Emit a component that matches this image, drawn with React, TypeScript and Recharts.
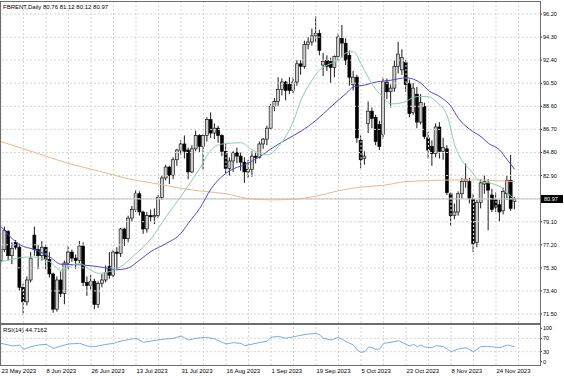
import React from 'react';
import { ComposedChart, Bar, Line, XAxis, YAxis, ReferenceLine } from 'recharts';

// ---------- data ----------
const symbol = 'FBRENT';
const period = 'Daily';

const dateLabels = ['23 May 2023', '8 Jun 2023', '26 Jun 2023', '13 Jul 2023', '31 Jul 2023', '16 Aug 2023', '1 Sep 2023', '19 Sep 2023', '5 Oct 2023', '23 Oct 2023', '8 Nov 2023', '24 Nov 2023'];
const dateBars = [0, 12, 24, 36, 48, 60, 72, 84, 96, 108, 120, 132];
const gridBars = [0, 6, 12, 18, 24, 30, 36, 42, 48, 54, 60, 66, 72, 78, 84, 90, 96, 102, 108, 114, 120, 126, 132, 138];

const priceTicks = [71.5, 73.4, 75.3, 77.2, 79.1, 82.9, 84.8, 86.7, 88.6, 90.5, 92.4, 94.3, 96.2];
const priceGrid = [71.5, 73.4, 75.3, 77.2, 79.1, 81.0, 82.9, 84.8, 86.7, 88.6, 90.5, 92.4, 94.3, 96.2];
const rsiTicks = [0, 30, 70, 100];
const rsiLevels = [30, 70];

const open = [
  75.9, 76.8, 78.3, 76.3, 77.4, 77.0, 73.7, 72.5, 74.3, 78.0,
  76.8, 76.3, 77.0, 76.0, 74.8, 71.9, 74.3, 73.2, 75.7, 76.6,
  76.1, 75.9, 77.1, 74.1, 73.85, 74.2, 72.3, 74.0, 74.3, 75.4,
  74.7, 76.6, 76.5, 78.5, 77.7, 79.4, 80.1, 81.4, 79.9, 78.5,
  79.6, 79.5, 79.6, 81.1, 82.7, 83.6, 82.9, 84.2, 85.0, 85.5,
  85.0, 83.2, 85.1, 86.2, 85.3, 86.2, 87.5, 86.4, 86.8, 86.2,
  84.9, 83.5, 84.1, 84.8, 84.5, 84.0, 83.2, 83.4, 84.5, 84.4,
  85.5, 85.9, 86.8, 88.6, 89.0, 90.0, 90.6, 90.4, 89.9, 90.6,
  92.1, 91.9, 93.7, 93.9, 94.4, 94.6, 92.0, 92.4, 92.3, 91.8,
  92.7, 94.2, 93.8, 92.8, 90.4, 91.0, 85.8, 84.3, 87.2, 88.2,
  87.7, 87.1, 86.3, 90.6, 89.8, 90.1, 91.9, 91.6, 92.2, 90.5,
  88.1, 89.6, 87.3, 88.6, 86.0, 85.3, 84.7, 86.9, 84.9, 85.1,
  81.4, 79.6, 79.9, 81.4, 82.4, 82.4, 81.0, 77.4, 80.7, 82.2,
  82.3, 81.3, 80.9, 80.5, 80.0, 81.4, 82.5, 80.76,
];
const high = [
  77.2, 78.7, 78.4, 77.4, 77.6, 77.3, 74.0, 74.6, 76.6, 78.7,
  77.2, 77.5, 77.2, 76.6, 74.9, 74.6, 75.0, 75.9, 77.1, 76.8,
  76.4, 77.5, 77.4, 74.6, 74.7, 74.4, 74.2, 74.8, 75.5, 76.6,
  76.8, 77.0, 78.6, 78.6, 79.6, 80.4, 81.7, 81.6, 80.0, 79.9,
  80.1, 80.2, 81.3, 82.9, 83.8, 83.7, 84.4, 85.1, 85.8, 86.2,
  85.2, 85.4, 86.6, 86.3, 86.3, 87.7, 88.1, 87.2, 87.0, 86.3,
  85.5, 84.4, 84.9, 85.2, 84.8, 84.4, 84.2, 84.9, 84.8, 85.7,
  86.0, 87.0, 88.8, 89.3, 91.0, 90.9, 90.7, 91.0, 91.0, 92.4,
  92.4, 94.0, 94.3, 95.0, 96.0, 94.9, 93.0, 92.8, 92.6, 92.8,
  94.6, 95.3, 94.2, 93.2, 91.5, 91.2, 86.2, 84.9, 89.0, 88.5,
  87.9, 87.4, 91.0, 90.9, 90.4, 92.4, 93.9, 93.3, 92.4, 90.8,
  90.5, 90.2, 89.6, 88.9, 86.5, 85.8, 87.2, 87.3, 86.0, 85.4,
  81.5, 80.6, 81.6, 82.7, 83.9, 82.7, 81.4, 80.9, 82.6, 82.9,
  82.6, 81.8, 81.5, 80.9, 81.9, 82.9, 84.6, 81.12,
];
const low = [
  75.5, 76.6, 75.9, 75.6, 76.8, 73.4, 71.4, 72.2, 74.1, 76.3,
  75.2, 75.9, 75.2, 74.5, 71.6, 71.7, 72.9, 72.3, 75.2, 75.8,
  75.2, 75.7, 73.8, 73.0, 73.5, 71.9, 72.0, 73.7, 74.1, 74.4,
  74.5, 75.1, 76.2, 77.1, 77.4, 79.1, 79.9, 79.6, 78.1, 78.2,
  79.1, 78.9, 79.4, 80.9, 82.5, 82.2, 82.6, 83.7, 84.6, 84.3,
  82.6, 83.1, 84.9, 84.8, 83.4, 85.7, 86.0, 85.9, 85.6, 84.5,
  83.1, 82.9, 83.2, 83.9, 83.3, 82.3, 82.7, 82.8, 83.9, 84.3,
  85.1, 85.4, 86.7, 88.2, 88.6, 89.5, 89.1, 89.6, 89.7, 90.3,
  91.2, 91.7, 93.3, 93.6, 93.9, 92.8, 91.1, 91.5, 90.5, 91.0,
  92.4, 92.6, 92.0, 90.3, 89.9, 85.6, 83.5, 83.8, 86.4, 86.8,
  85.4, 85.0, 85.9, 89.2, 88.5, 89.8, 91.3, 91.2, 89.8, 87.7,
  87.9, 86.8, 87.1, 85.9, 84.3, 83.7, 84.4, 84.3, 84.2, 81.3,
  78.8, 79.3, 79.6, 81.0, 81.9, 80.6, 76.6, 77.0, 80.2, 81.4,
  78.4, 79.9, 79.9, 79.1, 79.7, 80.9, 80.0, 80.12,
];
const close = [
  76.8, 78.4, 76.3, 76.9, 77.0, 73.7, 72.5, 74.3, 76.1, 76.8,
  76.3, 77.0, 76.0, 74.8, 71.9, 74.3, 73.2, 75.7, 76.6, 76.1,
  75.9, 77.1, 74.1, 73.85, 74.2, 72.3, 74.0, 74.3, 74.9, 74.7,
  76.6, 76.5, 78.5, 77.7, 79.4, 80.1, 81.4, 79.9, 78.5, 79.6,
  79.5, 79.6, 81.1, 82.7, 83.6, 82.9, 84.2, 85.0, 85.5, 84.9,
  83.2, 85.1, 86.2, 85.3, 86.2, 87.5, 86.4, 86.8, 86.2, 84.9,
  83.5, 84.1, 84.8, 84.5, 84.0, 83.2, 83.4, 84.5, 84.4, 85.5,
  85.9, 86.8, 88.6, 89.0, 90.0, 90.6, 89.9, 89.9, 90.6, 92.1,
  91.9, 93.7, 93.9, 94.4, 94.6, 93.2, 92.3, 91.9, 91.8, 92.7,
  94.3, 93.8, 92.4, 91.0, 91.0, 86.0, 84.2, 84.5, 88.2, 87.6,
  85.7, 85.3, 90.6, 89.8, 90.1, 91.9, 92.9, 92.6, 90.4, 88.0,
  90.1, 87.3, 88.9, 86.1, 85.0, 84.7, 86.9, 84.9, 85.2, 81.5,
  79.6, 79.9, 81.4, 82.4, 82.6, 81.0, 77.3, 80.7, 82.3, 82.4,
  81.7, 80.1, 80.3, 79.9, 81.6, 82.5, 80.2, 80.97,
];

// moving averages at selected bars
const fastMaBars = [0, 2, 8, 13, 16, 18, 21, 24, 26, 29, 32, 35, 40, 44, 48, 53, 56, 59, 64, 67, 71, 74, 78, 80, 83, 85, 87, 90, 92, 94, 96, 99, 102, 104, 107, 111, 114, 116, 119, 121, 123, 125, 128, 130, 133, 136, 137];
const fastMaValues = [75.8, 75.95, 76.2, 75.8, 75.1, 75.4, 75.65, 75.1, 74.85, 75.0, 75.4, 76.2, 77.7, 79.5, 81.2, 83.5, 85.0, 85.5, 85.6, 85.0, 84.6, 85.3, 87.4, 89.1, 90.8, 91.6, 92.0, 92.4, 93.0, 93.1, 92.1, 90.4, 89.3, 88.8, 88.9, 89.4, 89.4, 89.0, 87.8, 85.4, 84.1, 83.4, 82.4, 82.3, 82.0, 81.2, 81.0];

const midMaBars = [0, 5, 9, 13, 16, 21, 26, 31, 34, 37, 40, 44, 48, 50, 53, 56, 61, 65, 69, 72, 76, 80, 84, 86, 89, 92, 94, 97, 100, 104, 108, 112, 114, 117, 120, 122, 125, 128, 130, 133, 135, 137];
const midMaValues = [78.7, 77.2, 76.8, 76.2, 75.6, 75.55, 75.4, 75.15, 75.3, 75.95, 76.65, 77.3, 78.15, 79.0, 80.2, 81.8, 83.3, 83.8, 84.45, 85.1, 85.85, 86.55, 87.45, 88.0, 88.85, 89.65, 90.2, 90.35, 90.6, 90.75, 90.95, 90.5, 89.9, 89.4, 88.6, 87.6, 86.7, 86.1, 85.55, 85.0, 84.2, 83.4];

const slowMaBars = [0, 9, 18, 27, 33, 42, 48, 54, 60, 66, 72, 78, 84, 90, 96, 102, 108, 116, 125, 137];
const slowMaValues = [85.7, 84.8, 83.9, 83.2, 82.7, 82.2, 81.85, 81.6, 81.4, 81.0, 80.9, 80.95, 81.2, 81.65, 81.95, 82.1, 82.4, 82.5, 82.55, 82.4];

const rsiBars = [0, 2, 3, 5, 6, 8, 10, 12, 14, 16, 18, 21, 23, 25, 27, 30, 32, 36, 38, 40, 43, 46, 48, 50, 52, 55, 57, 60, 62, 64, 65, 68, 71, 72, 74, 76, 79, 82, 84, 85, 86, 88, 90, 92, 94, 95, 96, 97, 98, 99, 100, 101, 102, 104, 106, 108, 109, 110, 111, 112, 113, 115, 116, 118, 120, 122, 124, 126, 128, 130, 133, 135, 137];
const rsiValues = [55, 50, 47, 50, 37, 45, 50, 52, 40, 47, 53, 55, 47, 45, 50, 55, 62, 70, 58, 62, 67, 70, 77, 65, 70, 73, 68, 53, 57, 55, 48, 55, 62, 73, 76, 70, 77, 83, 85, 80, 70, 65, 73, 60, 50, 35, 28, 30, 44, 42, 37, 38, 55, 58, 63, 52, 47, 52, 45, 50, 44, 42, 48, 45, 30, 38, 42, 30, 45, 46, 42, 50, 44.7162];

// ---------- table ----------
type Row = { i: number; o: number; h: number; l: number; c: number; hl: [number, number]; g: number | null; b: number | null; m: number | null; r: number | null };
const rows: Row[] = open.map((o, i) => ({ i, o, h: high[i], l: low[i], c: close[i], hl: [low[i], high[i]], g: null, b: null, m: null, r: null }));
fastMaBars.forEach((bi, k) => { rows[bi].g = fastMaValues[k]; });
midMaBars.forEach((bi, k) => { rows[bi].b = midMaValues[k]; });
slowMaBars.forEach((bi, k) => { rows[bi].m = slowMaValues[k]; });
rsiBars.forEach((bi, k) => { rows[bi].r = rsiValues[k]; });

const last = rows[rows.length - 1];
const FONT = '"Liberation Sans", Arial, sans-serif';
const X_DOMAIN: [number, number] = [-0.267, 143.73];

const Candle = (props: any) => {
  const { x, y, width, height, payload } = props;
  if (!payload || x == null || y == null) return null;
  const top = Math.min(y, y + height);
  const hgt = Math.abs(height);
  const { o, h, l, c } = payload;
  const span = h - l || 1;
  const yAt = (v: number) => top + ((h - v) / span) * hgt;
  const yo = yAt(o);
  const yc = yAt(c);
  const bTop = Math.min(yo, yc);
  const bBot = Math.max(yo, yc);
  const cx = x + width / 2;
  const bull = c >= o;
  return (
    <g>
      <line x1={cx} x2={cx} y1={top} y2={top + hgt} stroke="#000" strokeWidth={0.9} />
      <rect x={cx - 1.5} y={bTop} width={3} height={Math.max(bBot - bTop, 0.7)} fill={bull ? '#cccccc' : '#000'} stroke="#000" strokeWidth={0.6} />
    </g>
  );
};

const BidLabel = (props: any) => {
  const vb = props.viewBox || {};
  const xx = (vb.x || 0) + (vb.width || 0);
  const yy = vb.y || 0;
  return (
    <g>
      <rect x={xx + 1} y={yy - 4} width={22} height={8} fill="#000" />
      <text x={xx + 4} y={yy} dy="0.35em" fontSize={5.5} fill="#fff" fontFamily={FONT}>{last.c.toFixed(2)}</text>
    </g>
  );
};

const DateTick = (props: any) => {
  const { x, y, payload } = props;
  const k = dateBars.indexOf(payload.value);
  if (k < 0) return null;
  return (
    <text x={x + 0.5} y={y + 8} fontSize={6} fill="#000" textAnchor="start" fontFamily={FONT}>{dateLabels[k]}</text>
  );
};

const gridStroke = '#d6d6d6';

export default function App() {
  return (
    <div style={{ position: 'fixed', left: 0, top: 0, width: 564, height: 376, background: '#fff', overflow: 'hidden' }}>
      <div style={{ position: 'absolute', left: 0, top: 0 }}>
        <ComposedChart width={564} height={325} data={rows} margin={{ top: 2, right: 0, bottom: 2, left: 0 }}>
          <XAxis dataKey="i" type="number" domain={X_DOMAIN} allowDataOverflow hide />
          <YAxis orientation="right" type="number" domain={[70.76, 97.19]} allowDataOverflow ticks={priceTicks} interval={0} width={24}
            axisLine={false} tickLine={{ stroke: '#333' }} tickSize={2} tickMargin={1}
            tick={{ fontSize: 5.5, fill: '#000', fontFamily: FONT }} tickFormatter={(v: number) => v.toFixed(2)} />
          {priceGrid.map((v) => (
            <ReferenceLine key={'py' + v} y={v} stroke={gridStroke} strokeDasharray="2 2" />
          ))}
          {gridBars.map((b) => (
            <ReferenceLine key={'px' + b} x={b} stroke={gridStroke} strokeDasharray="2 2" />
          ))}
          <ReferenceLine y={last.c} stroke="#c2c2c2" label={<BidLabel />} />
          <Bar dataKey="hl" barSize={3} shape={<Candle />} isAnimationActive={false} />
          <Line dataKey="m" type="monotone" stroke="#ecb790" strokeWidth={1} dot={false} connectNulls isAnimationActive={false} />
          <Line dataKey="b" type="monotone" stroke="#4b4bc8" strokeWidth={1} dot={false} connectNulls isAnimationActive={false} />
          <Line dataKey="g" type="monotone" stroke="#8ccfab" strokeWidth={1} dot={false} connectNulls isAnimationActive={false} />
        </ComposedChart>
      </div>
      <div style={{ position: 'absolute', left: 0, top: 323 }}>
        <ComposedChart width={564} height={53} data={rows} margin={{ top: 2, right: 0, bottom: 0, left: 0 }}>
          <XAxis dataKey="i" type="number" domain={X_DOMAIN} allowDataOverflow ticks={dateBars} interval={0} height={11}
            axisLine={false} tickLine={false} tickSize={0} tickMargin={0} tick={<DateTick />} />
          <YAxis orientation="right" type="number" domain={[-9.9, 109.9]} allowDataOverflow ticks={rsiTicks} interval={0} width={24}
            axisLine={false} tickLine={{ stroke: '#333' }} tickSize={2} tickMargin={1}
            tick={{ fontSize: 5.5, fill: '#000', fontFamily: FONT }} />
          {rsiLevels.map((v) => (
            <ReferenceLine key={'ry' + v} y={v} stroke={gridStroke} strokeDasharray="2 2" />
          ))}
          {gridBars.map((b) => (
            <ReferenceLine key={'rx' + b} x={b} stroke={gridStroke} strokeDasharray="2 2" />
          ))}
          <Line dataKey="r" type="linear" stroke="#79aee6" strokeWidth={1} dot={false} connectNulls isAnimationActive={false} />
        </ComposedChart>
      </div>
      {/* panel frames */}
      <div style={{ position: 'absolute', left: 0, top: 1, width: 539, height: 321, border: '1px solid #6e6e6e', pointerEvents: 'none' }} />
      <div style={{ position: 'absolute', left: 0, top: 324, width: 539, height: 40, border: '1px solid #6e6e6e', pointerEvents: 'none' }} />
      <svg width={564} height={376} style={{ position: 'absolute', left: 0, top: 0, pointerEvents: 'none' }}>
        <text x={3} y={9} fontSize={6} fill="#000" fontFamily={FONT}>
          {`${symbol},${period}  ${last.o.toFixed(2)} ${last.h.toFixed(2)} ${last.l.toFixed(2)} ${last.c.toFixed(2)}`}
        </text>
        <text x={3} y={332} fontSize={6} fill="#000" fontFamily={FONT}>
          {`RSI(14) ${rsiValues[rsiValues.length - 1].toFixed(4)}`}
        </text>
      </svg>
    </div>
  );
}
